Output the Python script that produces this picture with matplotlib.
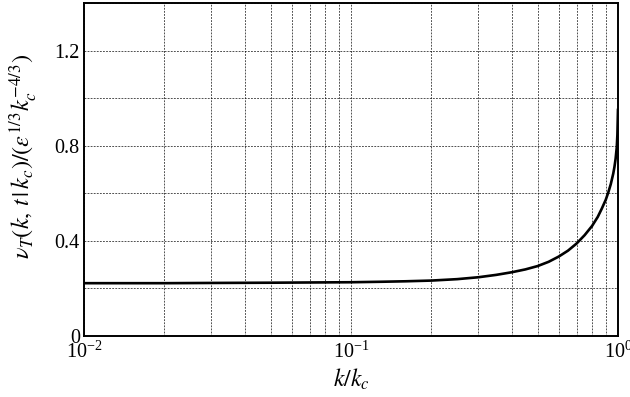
import matplotlib
matplotlib.use("Agg")
import matplotlib.pyplot as plt
from matplotlib.ticker import LogLocator, MultipleLocator

# Values
k_ratio = [0.01, 0.02, 0.03, 0.05, 0.07, 0.1, 0.13, 0.16, 0.2, 0.25, 0.3, 0.35,
           0.4, 0.45, 0.5, 0.55, 0.6, 0.65, 0.7, 0.75, 0.8, 0.84, 0.87, 0.9,
           0.92, 0.94, 0.96, 0.97, 0.98, 0.99, 0.995, 1.0]
nu_t = [0.221, 0.221, 0.222, 0.223, 0.224, 0.225, 0.227, 0.229, 0.232, 0.238,
        0.246, 0.256, 0.267, 0.279, 0.293, 0.311, 0.333, 0.358, 0.388, 0.423,
        0.462, 0.500, 0.535, 0.572, 0.603, 0.638, 0.682, 0.710, 0.745, 0.795,
        0.845, 0.950]
y_ticks = [0, 0.4, 0.8, 1.2]
y_tick_labels = ["0", "0.4", "0.8", "1.2"]

plt.rcParams["font.family"] = ["Liberation Serif", "DejaVu Serif"]
plt.rcParams["mathtext.fontset"] = "stix"

fig = plt.figure(figsize=(6.3, 3.97), dpi=100)
ax = fig.add_axes([0.1333, 0.1544, 0.8476, 0.838])

ax.plot(k_ratio, nu_t, color="black", linewidth=1.9, solid_joinstyle="round")

ax.set_xscale("log")
ax.set_xlim(1e-2, 1.0)
ax.set_ylim(0, 1.4)
ax.xaxis.set_major_locator(LogLocator(base=10))
ax.xaxis.set_minor_locator(LogLocator(base=10, subs=range(2, 10)))
ax.set_yticks(y_ticks)
ax.set_yticklabels(y_tick_labels)
ax.yaxis.set_minor_locator(MultipleLocator(0.2))

ax.grid(which="both", color="black", linestyle=(0, (2.2, 1.5)), linewidth=0.6, alpha=0.8)
ax.tick_params(which="both", length=0, labelsize=14.5)
ax.tick_params(axis="x", pad=4)
ax.tick_params(axis="y", pad=3)
for s in ax.spines.values():
    s.set_linewidth(1.4)

ax.set_xlabel(r"$k/k_c$", fontsize=17, labelpad=3)
ax.set_ylabel(r"$\nu_T(k,\,t\,|\,k_c)/(\epsilon^{1/3}k_c^{-4/3})$", fontsize=17.5)
ax.yaxis.set_label_coords(-0.083, 0.54)

fig.savefig("out.png", dpi=100)
